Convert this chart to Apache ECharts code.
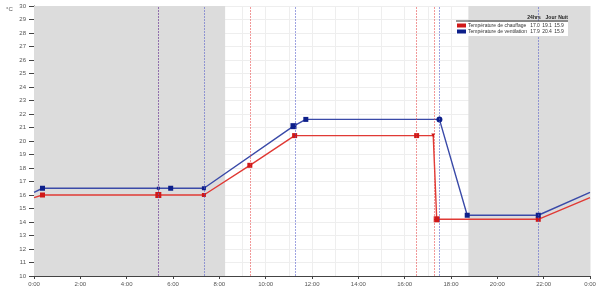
<!DOCTYPE html>
<html>
<head>
<meta charset="utf-8">
<script src="https://cdn.jsdelivr.net/npm/echarts@6/dist/echarts.min.js"></script>
<style>html,body{margin:0;padding:0;background:#fff}#c{width:600px;height:297px}</style>
</head>
<body>
<div id="c"></div>
<script>
// ---- data ----
const heatTimes = ["0:00","0:22","5:22","7:20","9:19","11:15","16:31","17:14","17:23","21:46","24:00"];
const heatVals  = [15.8, 16.0, 16.0, 16.0, 18.2, 20.4, 20.4, 20.4, 14.2, 14.2, 15.8];
const ventTimes = ["0:00","0:22","5:22","5:54","7:20","11:12","11:44","17:30","18:42","21:46","24:00"];
const ventVals  = [16.2, 16.5, 16.5, 16.5, 16.5, 21.1, 21.6, 21.6, 14.5, 14.5, 16.2];
const nightBands = [["0:00","8:15"],["18:45","24:00"]];
const redEvents  = ["5:21","9:19","16:30","17:17"];
const blueEvents = ["5:23","7:20","11:16","17:29","21:46"];
const seriesNames = ["Température de chauffage","Température de ventilation"];
const tableHeader = ["24hrs","Jour","Nuit"];
const heatStats = ["17.0","19.1","15.9"];
const ventStats = ["17.9","20.4","15.9"];
const xTicks = ["0:00","2:00","4:00","6:00","8:00","10:00","12:00","14:00","16:00","18:00","20:00","22:00","0:00"];

// ---- helpers ----
const toH = s => { const [h,m] = s.split(':').map(Number); return h + m/60; };
const pairs = (ts, vs) => ts.map((t,i) => [toH(t), vs[i]]);

const RED = '#e03a35', BLUE = '#3a4aa8', RED_M = '#d01818', BLUE_M = '#0d1f8a';
const heatSizes = [0,5,6,4,5,5,5,4,6,5,0];
const heatSym   = ['rect','rect','rect','rect','rect','rect','rect','triangle','rect','rect','rect'];
const ventSizes = [0,5,3,5,4,6,5,6,5,5,0];
const ventSym   = ['rect','rect','rect','rect','rect','rect','rect','circle','rect','rect','rect'];

const chart = echarts.init(document.getElementById('c'), null, {renderer:'canvas'});
const lbl = {fontSize:6, color:'#555', fontFamily:'Liberation Sans'};

const legendX = 456, legendY = 15;
const F = 'Liberation Sans';
chart.setOption({
  animation:false,
  backgroundColor:'#fff',
  grid:{left:34, right:10, top:6, bottom:21, containLabel:false},
  xAxis:{
    type:'value', min:0, max:24, interval:2,
    axisLine:{show:true, onZero:false, lineStyle:{color:'#444', width:1}},
    axisTick:{show:true, length:3, lineStyle:{color:'#444'}},
    axisLabel:Object.assign({margin:5, formatter:v => xTicks[Math.round(v/2)]}, lbl),
    splitLine:{show:true, lineStyle:{color:'#eeeeee', width:1}},
    minorTick:{show:false, splitNumber:2},
    minorSplitLine:{show:true, lineStyle:{color:'#eeeeee', width:1}}
  },
  yAxis:{
    type:'value', min:10, max:30, interval:1,
    axisLine:{show:true, lineStyle:{color:'#444', width:1}},
    axisTick:{show:true, length:5, lineStyle:{color:'#444'}},
    axisLabel:Object.assign({margin:8}, lbl),
    splitLine:{show:true, lineStyle:{color:'#eeeeee', width:1}}
  },
  series:[
    {
      type:'line', data:[], z:-1, silent:true,
      markArea:{silent:true, itemStyle:{color:'#dcdcdc'},
        data: nightBands.map(b => [{xAxis:toH(b[0])},{xAxis:toH(b[1])}])}
    },
    {
      type:'line', data:[], z:1, silent:true,
      markLine:{silent:true, symbol:['none','none'], label:{show:false},
        data: redEvents.map(t => ({xAxis:toH(t), lineStyle:{color:'rgba(230,70,70,0.55)', type:[2,1], width:1}}))
          .concat(blueEvents.map(t => ({xAxis:toH(t), lineStyle:{color:'rgba(80,90,200,0.55)', type:[2,1], width:1}})))}
    },
    {
      name:seriesNames[0], type:'line', z:3,
      data: pairs(heatTimes, heatVals).map((p,i) => ({value:p, symbol:heatSym[i], symbolSize:heatSizes[i], symbolRotate: heatSym[i]==='triangle'?180:0})),
      lineStyle:{color:RED, width:1.4},
      itemStyle:{color:RED_M, borderWidth:0},
      showAllSymbol:true
    },
    {
      name:seriesNames[1], type:'line', z:4,
      data: pairs(ventTimes, ventVals).map((p,i) => ({value:p, symbol:ventSym[i], symbolSize:ventSizes[i]})),
      lineStyle:{color:BLUE, width:1.4},
      itemStyle:{color:BLUE_M, borderWidth:0},
      showAllSymbol:true
    }
  ],
  graphic:[
    {type:'text', left:6, top:6, style:{text:'°C', fontSize:6, fill:'#555', fontFamily:F}},
    {type:'rect', shape:{x:legendX, y:legendY+7, width:112, height:14}, style:{fill:'#fff'}, z:10},
    {type:'line', shape:{x1:legendX, y1:legendY+6, x2:legendX+112, y2:legendY+6}, style:{stroke:'#333', lineWidth:1}, z:11},
    {type:'text', x:534, y:legendY+3, style:{text:tableHeader[0], fontSize:5, fontWeight:'bold', fill:'#222', align:'center', verticalAlign:'middle', fontFamily:F}, z:11},
    {type:'text', x:551, y:legendY+3, style:{text:tableHeader[1], fontSize:5, fontWeight:'bold', fill:'#222', align:'center', verticalAlign:'middle', fontFamily:F}, z:11},
    {type:'text', x:563, y:legendY+3, style:{text:tableHeader[2], fontSize:5, fontWeight:'bold', fill:'#222', align:'center', verticalAlign:'middle', fontFamily:F}, z:11},
    {type:'rect', shape:{x:legendX+1, y:legendY+8.5, width:9, height:4}, style:{fill:'#d01818'}, z:11},
    {type:'rect', shape:{x:legendX+1, y:legendY+14.5, width:9, height:4}, style:{fill:'#0d1f8a'}, z:11},
    {type:'text', x:legendX+12, y:legendY+10.5, style:{text:seriesNames[0], fontSize:5, fill:'#333', verticalAlign:'middle', fontFamily:F}, z:11},
    {type:'text', x:legendX+12, y:legendY+16.5, style:{text:seriesNames[1], fontSize:5, fill:'#333', verticalAlign:'middle', fontFamily:F}, z:11},
    {type:'text', x:535, y:legendY+10.5, style:{text:heatStats[0], fontSize:5, fill:'#333', align:'center', verticalAlign:'middle', fontFamily:F}, z:11},
    {type:'text', x:547, y:legendY+10.5, style:{text:heatStats[1], fontSize:5, fill:'#333', align:'center', verticalAlign:'middle', fontFamily:F}, z:11},
    {type:'text', x:559, y:legendY+10.5, style:{text:heatStats[2], fontSize:5, fill:'#333', align:'center', verticalAlign:'middle', fontFamily:F}, z:11},
    {type:'text', x:535, y:legendY+16.5, style:{text:ventStats[0], fontSize:5, fill:'#333', align:'center', verticalAlign:'middle', fontFamily:F}, z:11},
    {type:'text', x:547, y:legendY+16.5, style:{text:ventStats[1], fontSize:5, fill:'#333', align:'center', verticalAlign:'middle', fontFamily:F}, z:11},
    {type:'text', x:559, y:legendY+16.5, style:{text:ventStats[2], fontSize:5, fill:'#333', align:'center', verticalAlign:'middle', fontFamily:F}, z:11}
  ]
});
</script>
</body>
</html>
